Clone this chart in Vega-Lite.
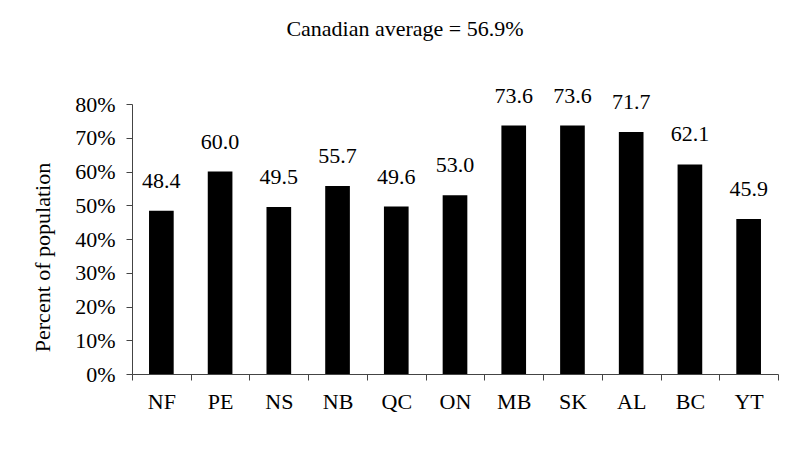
{
  "$schema": "https://vega.github.io/schema/vega-lite/v6.json",
  "width": 646,
  "height": 270,
  "autosize": "none",
  "padding": {"left": 132, "top": 104, "right": 13, "bottom": 77},
  "background": "white",
  "title": {
    "text": "Canadian average = 56.9%",
    "font": "Liberation Serif",
    "fontSize": 22,
    "fontWeight": "normal",
    "color": "black",
    "anchor": "middle",
    "dx": -50,
    "offset": 44
  },
  "data": {
    "values": [
      {"province": "NF", "value": 48.4},
      {"province": "PE", "value": 60.0},
      {"province": "NS", "value": 49.5},
      {"province": "NB", "value": 55.7},
      {"province": "QC", "value": 49.6},
      {"province": "ON", "value": 53.0},
      {"province": "MB", "value": 73.6},
      {"province": "SK", "value": 73.6},
      {"province": "AL", "value": 71.7},
      {"province": "BC", "value": 62.1},
      {"province": "YT", "value": 45.9}
    ]
  },
  "encoding": {
    "x": {
      "field": "province",
      "type": "nominal",
      "sort": null,
      "scale": {"paddingInner": 0, "paddingOuter": 0},
      "axis": {
        "title": null,
        "labelAngle": 0,
        "labelFont": "Liberation Serif",
        "labelFontSize": 22,
        "labelColor": "black",
        "labelPadding": 11,
        "tickSize": 6,
        "tickBand": "extent",
        "tickColor": "#444",
        "domainColor": "#444",
        "grid": false
      }
    },
    "y": {
      "field": "value",
      "type": "quantitative",
      "scale": {"domain": [0, 80], "nice": false},
      "axis": {
        "values": [0, 10, 20, 30, 40, 50, 60, 70, 80],
        "labelExpr": "datum.value + '%'",
        "labelFont": "Liberation Serif",
        "labelFontSize": 22,
        "labelColor": "black",
        "labelPadding": 11,
        "tickSize": 6,
        "tickColor": "#444",
        "domainColor": "#444",
        "grid": false,
        "title": "Percent of population",
        "titleFont": "Liberation Serif",
        "titleFontSize": 22,
        "titleFontWeight": "normal",
        "titleColor": "black",
        "titleX": -90,
        "titleY": 153,
        "titleAlign": "center",
        "titleBaseline": "middle",
        "titleAngle": -90
      }
    }
  },
  "layer": [
    {
      "mark": {"type": "bar", "color": "black", "width": {"band": 0.42}}
    },
    {
      "mark": {
        "type": "text",
        "font": "Liberation Serif",
        "fontSize": 22,
        "color": "black",
        "baseline": "alphabetic",
        "dy": -23
      },
      "encoding": {
        "text": {"field": "value", "type": "quantitative", "format": ".1f"}
      }
    }
  ],
  "config": {
    "view": {"stroke": null}
  }
}
